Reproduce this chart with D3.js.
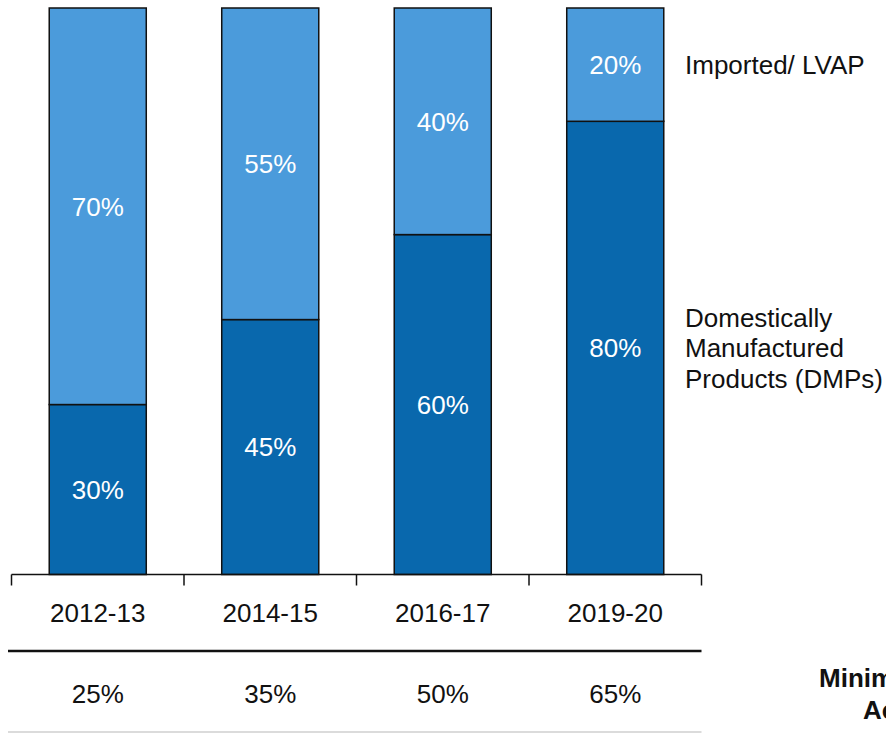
<!DOCTYPE html>
<html>
<head>
<meta charset="utf-8">
<script src="https://cdn.jsdelivr.net/npm/d3@7"></script>
<style>
  html, body { margin: 0; padding: 0; background: #fff; overflow: hidden; }
  svg { display: block; font-family: "Liberation Sans", Arial, sans-serif; }
</style>
</head>
<body>
<svg id="chart" width="886" height="733"></svg>
<script>
// Share of domestically manufactured vs imported products, by year
const categories = ["2012-13", "2014-15", "2016-17", "2019-20"];
const domestic = [30, 45, 60, 80];
const imported = [70, 55, 40, 20];
const minimumAchieved = ["25%", "35%", "50%", "65%"];
const seriesNames = ["Domestically", "Manufactured", "Products (DMPs)"];
const importedName = "Imported/ LVAP";
const rowTitle = ["Minimum Localisation", "Achieved"];

const colors = { domestic: "#0968ad", imported: "#4b9bdb" };
const fontSize = 26;

const svg = d3.select("#chart");

const x = d3.scaleBand().domain(categories).range([11.5, 701.5]).padding(0);
const y = d3.scaleLinear().domain([0, 100]).range([574.5, 8]);
const barW = x.step() * 0.5625;

const rows = categories.map((c, i) => ({ cat: c, dom: domestic[i], imp: imported[i] }));
const stack = d3.stack().keys(["dom", "imp"])(rows);

const g = svg.append("g");

stack.forEach(layer => {
  const fill = layer.key === "dom" ? colors.domestic : colors.imported;
  g.selectAll(null).data(layer).enter().append("rect")
    .attr("x", d => x(d.data.cat) + x.bandwidth() / 2 - barW / 2)
    .attr("y", d => y(d[1]))
    .attr("width", barW)
    .attr("height", d => y(d[0]) - y(d[1]))
    .attr("fill", fill)
    .attr("stroke", "#111")
    .attr("stroke-width", 1.5);

  g.selectAll(null).data(layer).enter().append("text")
    .attr("x", d => x(d.data.cat) + x.bandwidth() / 2)
    .attr("y", d => (y(d[0]) + y(d[1])) / 2 + fontSize * 0.36)
    .attr("text-anchor", "middle")
    .attr("fill", "#fff")
    .attr("font-size", fontSize)
    .text(d => (d[1] - d[0]) + "%");
});

// Category axis with ticks at band edges
const axisY = y(0);
g.append("line")
  .attr("x1", x.range()[0]).attr("x2", x.range()[1])
  .attr("y1", axisY).attr("y2", axisY)
  .attr("stroke", "#111").attr("stroke-width", 1.5);
const edges = categories.map(c => x(c)).concat([x.range()[1]]);
g.selectAll(null).data(edges).enter().append("line")
  .attr("x1", d => d).attr("x2", d => d)
  .attr("y1", axisY).attr("y2", axisY + 11)
  .attr("stroke", "#111").attr("stroke-width", 1.5);

g.selectAll(null).data(categories).enter().append("text")
  .attr("x", d => x(d) + x.bandwidth() / 2)
  .attr("y", 621.5)
  .attr("text-anchor", "middle")
  .attr("fill", "#111")
  .attr("font-size", fontSize)
  .text(d => d);

// Table row beneath the axis
g.append("line")
  .attr("x1", 8).attr("x2", x.range()[1])
  .attr("y1", 651).attr("y2", 651)
  .attr("stroke", "#111").attr("stroke-width", 2.5);
g.append("line")
  .attr("x1", 8).attr("x2", x.range()[1])
  .attr("y1", 732).attr("y2", 732)
  .attr("stroke", "#cfcfcf").attr("stroke-width", 1.5);

g.selectAll(null).data(categories).enter().append("text")
  .attr("x", d => x(d) + x.bandwidth() / 2)
  .attr("y", 702.5)
  .attr("text-anchor", "middle")
  .attr("fill", "#111")
  .attr("font-size", fontSize)
  .text((d, i) => minimumAchieved[i]);

g.append("text")
  .attr("x", 819).attr("y", 686.5)
  .attr("font-size", fontSize).attr("font-weight", "bold").attr("fill", "#111")
  .text(rowTitle[0]);
g.append("text")
  .attr("x", 863).attr("y", 719)
  .attr("font-size", fontSize).attr("font-weight", "bold").attr("fill", "#111")
  .text(rowTitle[1]);

// Series labels beside the last bar
const last = stack.map(layer => layer[layer.length - 1]);
const labelX = 685;
const impMid = (y(last[1][0]) + y(last[1][1])) / 2;
g.append("text")
  .attr("x", labelX).attr("y", impMid + fontSize * 0.36)
  .attr("font-size", fontSize).attr("fill", "#111")
  .text(importedName);

const domMid = (y(last[0][0]) + y(last[0][1])) / 2;
const lineH = 30.5;
g.append("text")
  .attr("font-size", fontSize).attr("fill", "#111")
  .selectAll("tspan").data(seriesNames).enter().append("tspan")
  .attr("x", labelX)
  .attr("y", (d, i) => domMid + (i - 1) * lineH + fontSize * 0.36)
  .text(d => d);
</script>
</body>
</html>
